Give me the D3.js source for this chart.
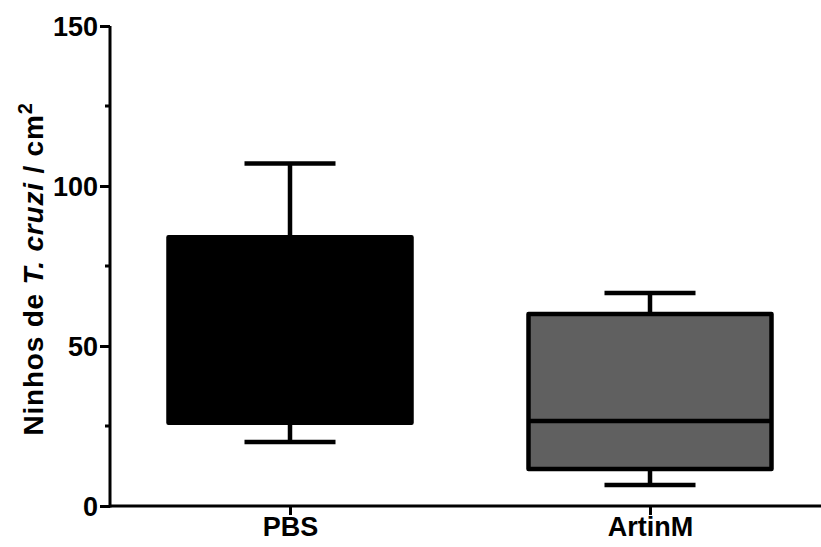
<!DOCTYPE html>
<html>
<head>
<meta charset="utf-8">
<script src="https://cdn.jsdelivr.net/npm/d3@7"></script>
<style>
  body { margin: 0; background: #fff; }
  text { font-family: "Liberation Sans", Arial, sans-serif; font-weight: bold; }
</style>
</head>
<body>
<div id="chart"></div>
<script>
// Data
const groups = ["PBS", "ArtinM"];
const whiskerLow = [20, 6.6];
const q1 = [26, 11.6];
const median = [26, 26.6];
const q3 = [84, 60];
const whiskerHigh = [107, 66.6];
const fills = ["#000000", "#606060"];
const yTicks = [0, 50, 100, 150];
const yMinorTicks = [25, 75, 125];

const width = 821, height = 547;
const margin = { top: 26, right: 0, bottom: 41, left: 110 };

const svg = d3.select("#chart")
  .append("svg")
  .attr("width", width)
  .attr("height", height);

const y = d3.scaleLinear()
  .domain([0, 150])
  .range([height - margin.bottom, margin.top]);

const x = d3.scalePoint()
  .domain(groups)
  .range([margin.left, 830])
  .padding(0.5);

const boxWidth = 243;
const capWidth = 91;

const data = groups.map((g, i) => ({
  group: g, lo: whiskerLow[i], q1: q1[i], med: median[i],
  q3: q3[i], hi: whiskerHigh[i], fill: fills[i]
}));

const boxes = svg.selectAll("g.box")
  .data(data)
  .enter()
  .append("g")
  .attr("class", "box");

// whisker stems
boxes.append("line")
  .attr("x1", d => x(d.group)).attr("x2", d => x(d.group))
  .attr("y1", d => y(d.hi)).attr("y2", d => y(d.lo))
  .attr("stroke", "#000").attr("stroke-width", 4.5);

// caps
boxes.selectAll("line.cap")
  .data(d => [d.lo, d.hi].map(v => ({ g: d.group, v })))
  .enter()
  .append("line")
  .attr("class", "cap")
  .attr("x1", d => x(d.g) - capWidth / 2)
  .attr("x2", d => x(d.g) + capWidth / 2)
  .attr("y1", d => y(d.v)).attr("y2", d => y(d.v))
  .attr("stroke", "#000").attr("stroke-width", 4.5);

// boxes
boxes.append("rect")
  .attr("x", d => x(d.group) - boxWidth / 2)
  .attr("width", boxWidth)
  .attr("y", d => y(d.q3))
  .attr("height", d => y(d.q1) - y(d.q3))
  .attr("fill", d => d.fill)
  .attr("stroke", "#000")
  .attr("stroke-width", 4.5)
  .attr("stroke-linejoin", "round");

// medians
boxes.append("line")
  .attr("x1", d => x(d.group) - boxWidth / 2)
  .attr("x2", d => x(d.group) + boxWidth / 2)
  .attr("y1", d => y(d.med)).attr("y2", d => y(d.med))
  .attr("stroke", "#000").attr("stroke-width", 4.5);

// Y axis
const yAxis = svg.append("g")
  .attr("transform", `translate(${margin.left},0)`)
  .call(d3.axisLeft(y).tickValues(yTicks).tickSize(10).tickPadding(2).tickFormat(d3.format("d")));
yAxis.select(".domain").attr("stroke-width", 3).attr("d", `M0,${y(0) + 1.5}V${y(150)}`);
yAxis.selectAll(".tick line").attr("stroke-width", 3);
yAxis.selectAll(".tick text")
  .style("font-size", "27px").attr("fill", "#000").attr("dy", "0.36em");

yAxis.selectAll(".minor")
  .data(yMinorTicks)
  .enter()
  .append("line")
  .attr("class", "minor")
  .attr("x1", -5).attr("x2", 0)
  .attr("y1", d => y(d)).attr("y2", d => y(d))
  .attr("stroke", "#000").attr("stroke-width", 3);

// X axis
const xAxis = svg.append("g")
  .attr("transform", `translate(0,${y(0)})`)
  .call(d3.axisBottom(x).tickSize(9).tickPadding(2));
xAxis.select(".domain").attr("stroke-width", 3).attr("d", `M${margin.left},0H${width}`);
xAxis.selectAll(".tick line").attr("stroke-width", 3);
xAxis.selectAll(".tick text")
  .style("font-size", "27px").attr("fill", "#000");

// Y label
const yLabel = svg.append("text")
  .attr("transform", `translate(43,${(y(0) + y(150)) / 2 + 3}) rotate(-90)`)
  .attr("text-anchor", "middle")
  .style("font-size", "28px")
  .style("letter-spacing", "0.8px");
yLabel.append("tspan").text("Ninhos de ");
yLabel.append("tspan").style("font-style", "italic").text("T. cruzi");
yLabel.append("tspan").text(" / cm");
yLabel.append("tspan").attr("dy", "-0.55em").style("font-size", "20px").text("2");
</script>
</body>
</html>
